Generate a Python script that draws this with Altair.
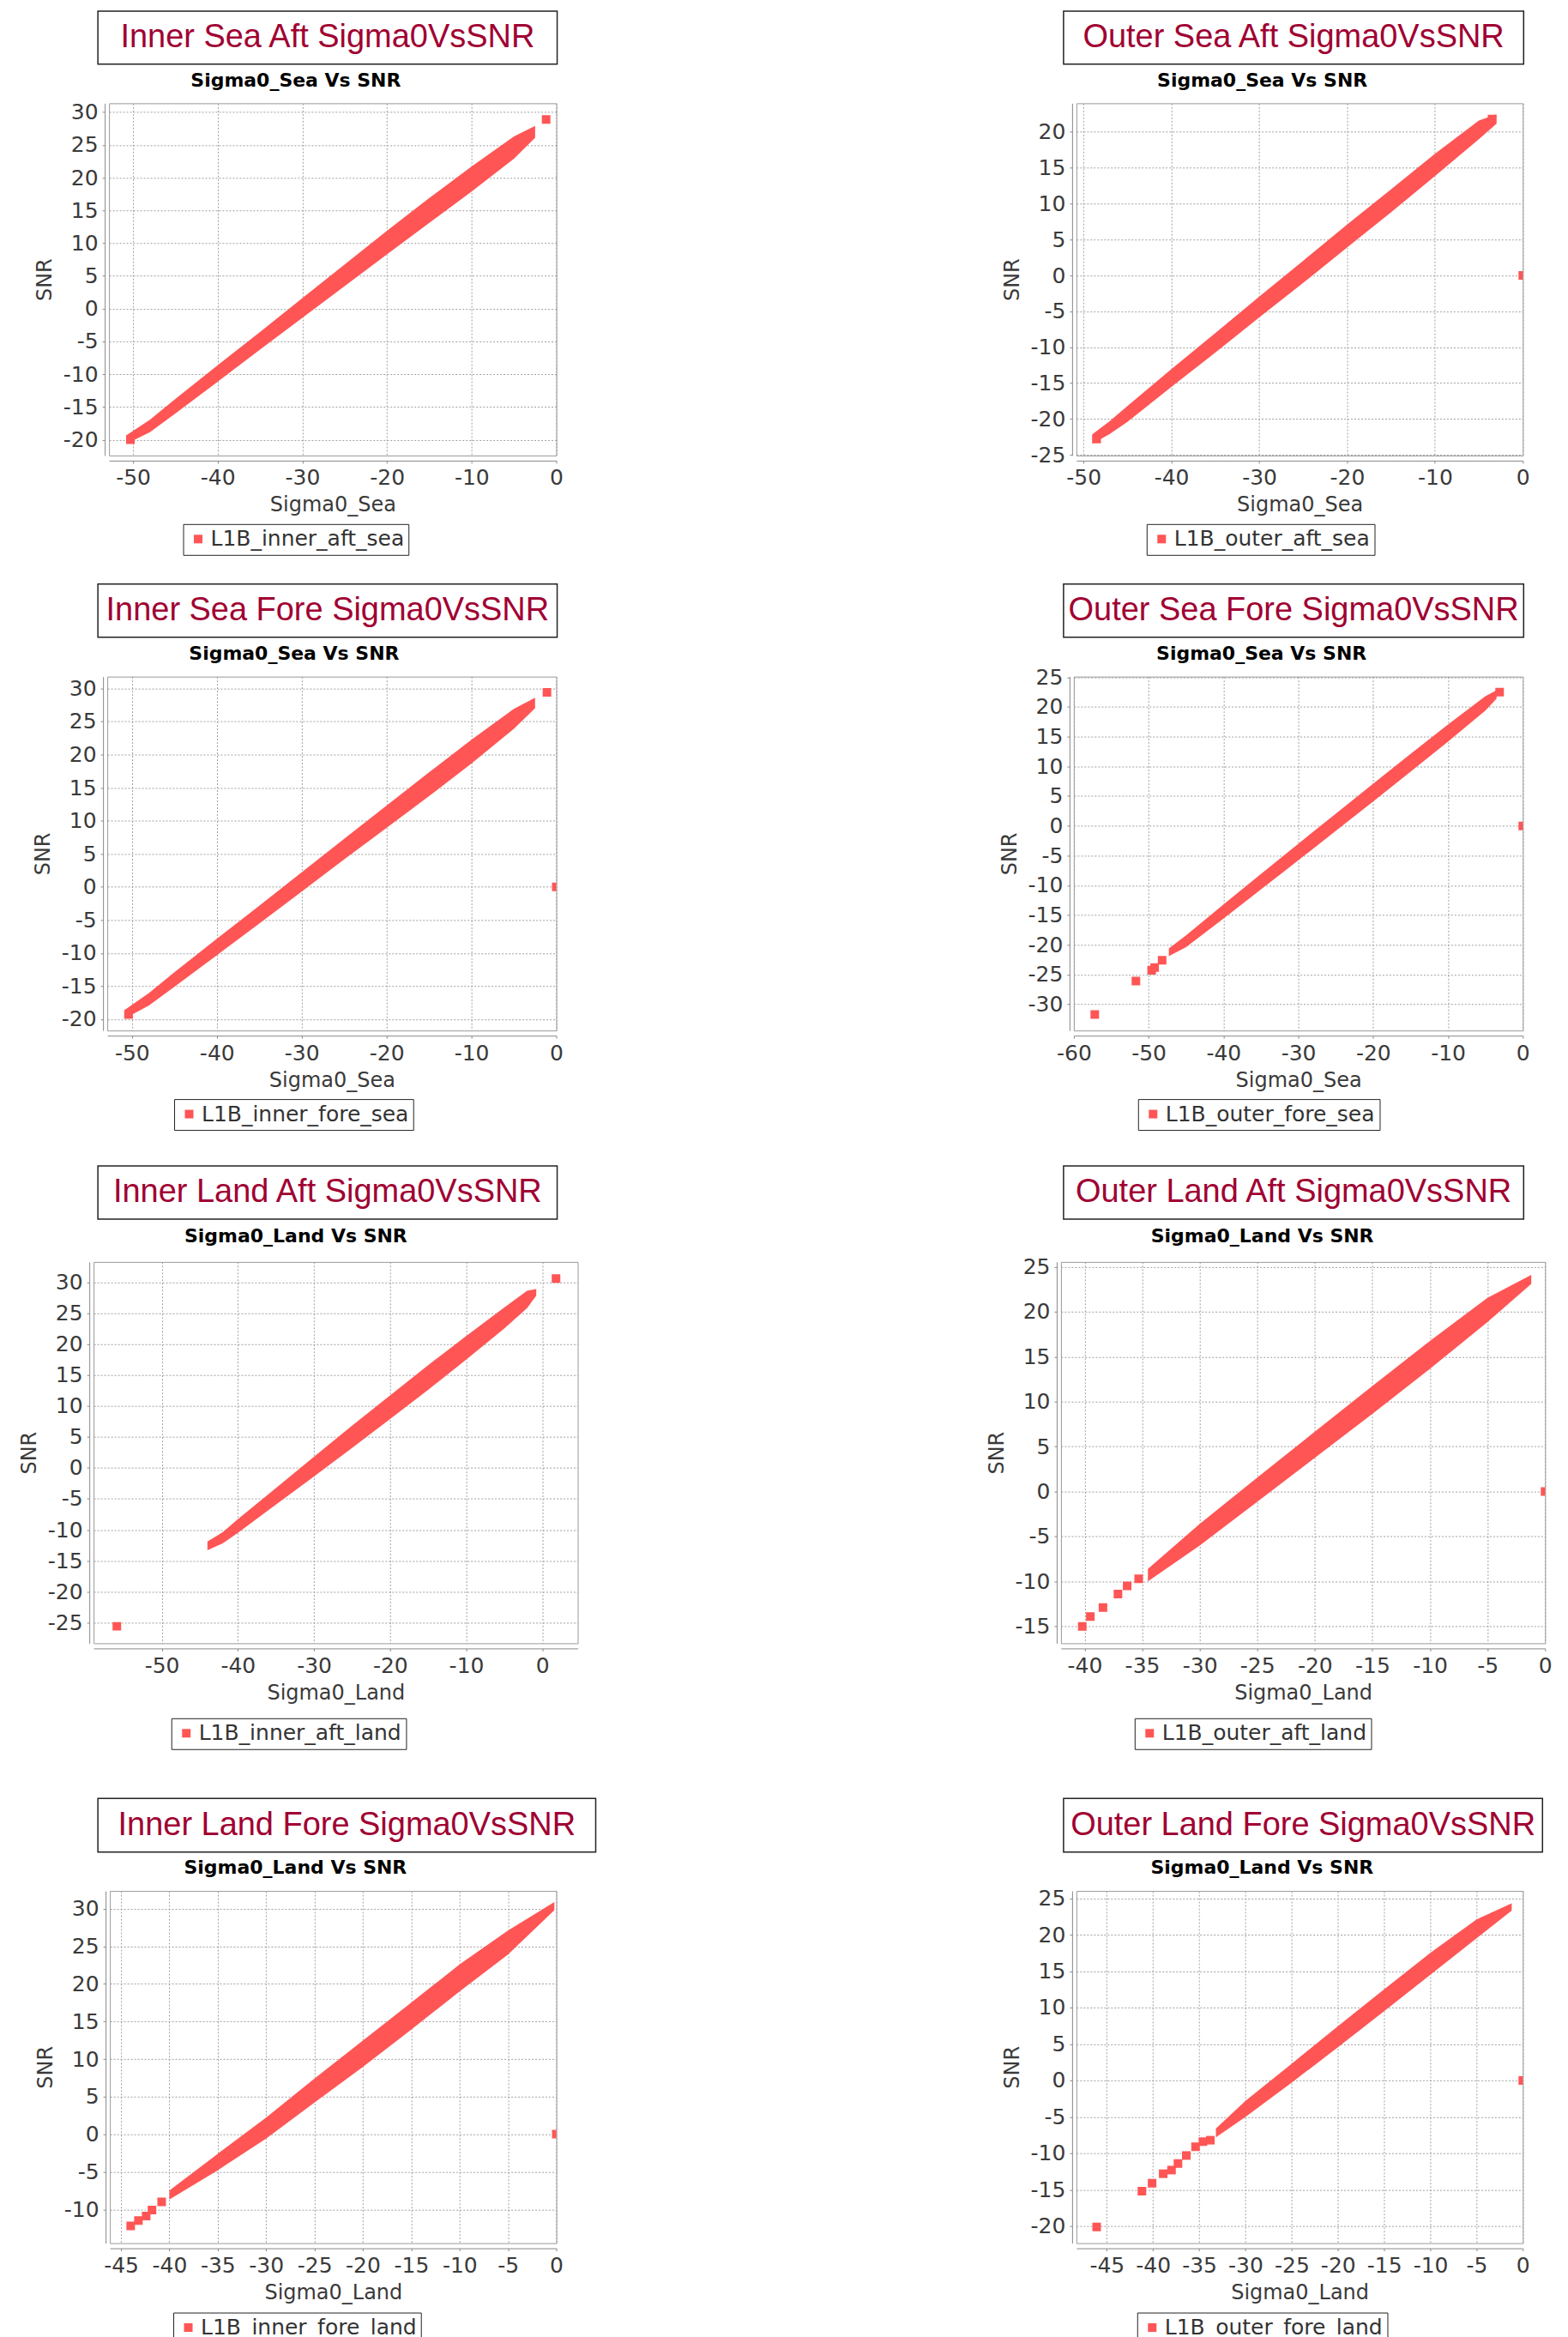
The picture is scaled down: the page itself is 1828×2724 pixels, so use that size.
import altair as alt
import pandas as pd

# ----------------------------- data -----------------------------
TITLES = ["Inner Sea Aft Sigma0VsSNR", "Outer Sea Aft Sigma0VsSNR",
          "Inner Sea Fore Sigma0VsSNR", "Outer Sea Fore Sigma0VsSNR",
          "Inner Land Aft Sigma0VsSNR", "Outer Land Aft Sigma0VsSNR",
          "Inner Land Fore Sigma0VsSNR", "Outer Land Fore Sigma0VsSNR"]
SUBTITLES = ["Sigma0_Sea Vs SNR"] * 4 + ["Sigma0_Land Vs SNR"] * 4
X_TITLES = ["Sigma0_Sea"] * 4 + ["Sigma0_Land"] * 4
SERIES = ["L1B_inner_aft_sea", "L1B_outer_aft_sea", "L1B_inner_fore_sea", "L1B_outer_fore_sea",
          "L1B_inner_aft_land", "L1B_outer_aft_land", "L1B_inner_fore_land", "L1B_outer_fore_land"]

X_TICKS = [[-50, -40, -30, -20, -10, 0],
           [-50, -40, -30, -20, -10, 0],
           [-50, -40, -30, -20, -10, 0],
           [-60, -50, -40, -30, -20, -10, 0],
           [-50, -40, -30, -20, -10, 0],
           [-40, -35, -30, -25, -20, -15, -10, -5, 0],
           [-45, -40, -35, -30, -25, -20, -15, -10, -5, 0],
           [-45, -40, -35, -30, -25, -20, -15, -10, -5, 0]]
Y_TICKS = [[-20, -15, -10, -5, 0, 5, 10, 15, 20, 25, 30],
           [-25, -20, -15, -10, -5, 0, 5, 10, 15, 20],
           [-20, -15, -10, -5, 0, 5, 10, 15, 20, 25, 30],
           [-30, -25, -20, -15, -10, -5, 0, 5, 10, 15, 20, 25],
           [-25, -20, -15, -10, -5, 0, 5, 10, 15, 20, 25, 30],
           [-15, -10, -5, 0, 5, 10, 15, 20, 25],
           [-10, -5, 0, 5, 10, 15, 20, 25, 30],
           [-20, -15, -10, -5, 0, 5, 10, 15, 20, 25]]
X_DOMAINS = [[-52.83, 0], [-50.81, 0], [-52.9, 0], [-60, 0],
             [-58.95, 4.65], [-42.05, 0], [-46.15, 0], [-48.29, 0]]
Y_DOMAINS = [[-22.42, 31.36], [-25.1, 24.0], [-21.72, 31.79], [-34.41, 25.1],
             [-28.34, 33.27], [-16.88, 25.54], [-14.5, 32.37], [-22.33, 26.0]]

# dense cloud of points, read as: sigma0 sample, upper and lower SNR edge of the cloud
P1_BAND_X = [-50.8, -48.0, -45.0, -40.0, -35.0, -30.0, -25.0, -20.0, -15.0, -10.0, -5.0, -2.5]
P1_BAND_HI = [-19.35, -16.95, -13.8, -8.65, -3.55, 1.6, 6.75, 11.9, 16.9, 21.7, 26.3, 27.9]
P1_BAND_LO = [-20.65, -18.85, -16.0, -11.15, -6.25, -1.4, 3.45, 8.3, 13.1, 17.9, 22.9, 26.1]
P1_PTS_X = [-50.3, -1.2]
P1_PTS_Y = [-20.0, 28.9]

P2_BAND_X = [-49.0, -47.0, -45.0, -40.0, -35.0, -30.0, -25.0, -20.0, -15.0, -10.0, -5.0, -3.0]
P2_BAND_HI = [-22.15, -20.3, -18.2, -13.05, -8.05, -2.95, 2.05, 7.1, 12.0, 16.95, 21.6, 22.45]
P2_BAND_LO = [-23.45, -22.1, -20.4, -15.55, -10.75, -5.85, -1.05, 3.9, 8.8, 13.85, 19.0, 21.15]
P2_PTS_X = [-48.5, -3.5, 0.0]
P2_PTS_Y = [-22.8, 21.8, 0.0]

P3_BAND_X = [-50.9, -48.0, -45.0, -40.0, -35.0, -30.0, -25.0, -20.0, -15.0, -10.0, -5.0, -2.5]
P3_BAND_HI = [-18.65, -16.05, -12.9, -7.85, -2.85, 2.2, 7.25, 12.3, 17.3, 22.25, 26.9, 28.6]
P3_BAND_LO = [-19.95, -17.95, -15.1, -10.35, -5.55, -0.7, 4.15, 8.9, 13.7, 18.65, 23.9, 27.0]
P3_PTS_X = [-50.4, -1.1, 0.0]
P3_PTS_Y = [-19.3, 29.4, 0.0]

P4_BAND_X = [-47.3, -45.0, -40.0, -35.0, -30.0, -25.0, -20.0, -15.0, -10.0, -5.0, -3.5]
P4_BAND_HI = [-20.6, -18.4, -13.2, -8.1, -3.0, 2.05, 7.1, 12.1, 17.05, 21.8, 22.8]
P4_BAND_LO = [-21.9, -20.4, -15.6, -10.7, -5.8, -0.85, 4.1, 9.1, 14.15, 19.4, 21.4]
P4_PTS_X = [-57.2, -51.7, -49.6, -49.2, -48.2, -3.1, 0.0]
P4_PTS_Y = [-31.7, -26.1, -24.3, -23.8, -22.6, 22.5, 0.0]

P5_BAND_X = [-44.0, -42.0, -40.0, -35.0, -30.0, -25.0, -20.0, -15.0, -10.0, -5.0, -2.0, -0.8]
P5_BAND_HI = [-11.9, -10.4, -8.3, -3.25, 1.8, 6.8, 11.7, 16.6, 21.3, 25.9, 28.6, 28.9]
P5_BAND_LO = [-13.3, -12.2, -10.5, -5.95, -1.4, 3.2, 7.9, 12.6, 17.5, 22.5, 25.8, 27.8]
P5_PTS_X = [-55.9, 1.8]
P5_PTS_Y = [-25.6, 30.6]

P6_BAND_X = [-34.5, -30.0, -25.0, -20.0, -15.0, -10.0, -5.0, -1.2]
P6_BAND_HI = [-8.6, -3.6, 1.55, 6.65, 11.75, 16.75, 21.55, 24.1]
P6_BAND_LO = [-10.0, -6.0, -1.15, 3.75, 8.65, 13.65, 18.85, 23.1]
P6_PTS_X = [-40.2, -39.5, -38.4, -37.1, -36.3, -35.3, 0.0]
P6_PTS_Y = [-15.0, -13.9, -12.9, -11.4, -10.5, -9.7, 0.0]

P7_BAND_X = [-40.0, -35.0, -30.0, -25.0, -20.0, -15.0, -10.0, -5.0, -0.2]
P7_BAND_HI = [-7.5, -2.6, 2.2, 7.4, 12.45, 17.5, 22.6, 27.1, 30.9]
P7_BAND_LO = [-8.7, -4.8, -0.6, 4.2, 8.95, 13.9, 19.0, 23.9, 29.8]
P7_PTS_X = [-44.0, -43.2, -42.4, -41.8, -40.8, 0.0]
P7_PTS_Y = [-12.2, -11.5, -10.9, -10.1, -9.0, 0.0]

P8_BAND_X = [-33.2, -30.0, -25.0, -20.0, -15.0, -10.0, -5.0, -1.2]
P8_BAND_HI = [-6.6, -2.8, 2.3, 7.45, 12.5, 17.5, 22.1, 24.3]
P8_BAND_LO = [-7.8, -5.0, -0.3, 4.55, 9.5, 14.5, 19.5, 23.3]
P8_PTS_X = [-46.1, -41.2, -40.1, -38.9, -38.0, -37.3, -36.4, -35.4, -34.6, -33.8, 0.0]
P8_PTS_Y = [-20.1, -15.2, -14.1, -12.8, -12.3, -11.4, -10.3, -9.1, -8.4, -8.2, 0.0]

BAND_X = [P1_BAND_X, P2_BAND_X, P3_BAND_X, P4_BAND_X, P5_BAND_X, P6_BAND_X, P7_BAND_X, P8_BAND_X]
BAND_HI = [P1_BAND_HI, P2_BAND_HI, P3_BAND_HI, P4_BAND_HI, P5_BAND_HI, P6_BAND_HI, P7_BAND_HI, P8_BAND_HI]
BAND_LO = [P1_BAND_LO, P2_BAND_LO, P3_BAND_LO, P4_BAND_LO, P5_BAND_LO, P6_BAND_LO, P7_BAND_LO, P8_BAND_LO]
PTS_X = [P1_PTS_X, P2_PTS_X, P3_PTS_X, P4_PTS_X, P5_PTS_X, P6_PTS_X, P7_PTS_X, P8_PTS_X]
PTS_Y = [P1_PTS_Y, P2_PTS_Y, P3_PTS_Y, P4_PTS_Y, P5_PTS_Y, P6_PTS_Y, P7_PTS_Y, P8_PTS_Y]

# ----------------------------- styles / layout -----------------------------
RED = "#FF5555"
TITLE_RED = "#A00032"
FONT = "DejaVu Sans"
TITLE_FONT = "Liberation Sans"
LABEL = "#3A3A3A"
AXIS_C = "#888888"
GRID_C = "#A0A0A0"
FRAME_C = "#9A9A9A"

PLOT_W = [522, 521, 524, 524, 565, 565, 521, 521]
PLOT_H = [411, 411, 413, 413, 445, 445, 411, 411]
COL_GAP = [607, 604, 564, 607]
BOX = [(-13, 523, -107.5, -45.6), (-15, 522, -107.5, -45.6),
       (-11, 525, -108, -46), (-12, 525, -108, -46),
       (5, 541, -112, -50), (3, 540, -112, -50),
       (-14, 567, -108, -45.3), (-15, 544, -108, -45.3)]
SUB = [(218, -19), (217, -19), (218, -20), (219, -20),
       (236, -23), (235, -23), (216.5, -20), (216.7, -20)]
LEG = [(86.5, 491), (82, 491), (78, 493), (75, 493),
       (90.7, 532.5), (86, 532.5), (74, 492), (71, 492)]
SPACERS = [[(0, 1, -110, 542)], [(546, 547, 0, 1)],
           [(0, 1, -125, 550)], [(551, 552, 0, 1)],
           [(0, 1, -131, 599), (-100, -99, 0, 1)], [(582, 583, 0, 1)],
           [(0, 1, -133, 526)], [(545, 546, 0, 1)]]


def panel(i):
    name = SERIES[i]
    band = pd.DataFrame({"sigma0": BAND_X[i], "snr": BAND_HI[i], "snr2": BAND_LO[i], "series": name})
    pts = pd.DataFrame({"sigma0": PTS_X[i], "snr": PTS_Y[i], "series": name})
    tdf = pd.DataFrame({"title": [TITLES[i]], "subtitle": [SUBTITLES[i]]})

    common = dict(grid=True, gridColor=GRID_C, gridDash=[2, 2], gridWidth=1,
                  domainColor=AXIS_C, tickColor=AXIS_C, tickSize=3,
                  labelFont=FONT, labelFontSize=25, labelColor=LABEL, labelPadding=5,
                  labelFlush=False, labelOverlap=False, labelExpr="'' + datum.value",
                  titleFont=FONT, titleFontSize=24, titleFontWeight="normal",
                  titleColor=LABEL)
    xaxis = alt.Axis(values=X_TICKS[i], title=X_TITLES[i], offset=6, titlePadding=7, **common)
    yaxis = alt.Axis(values=Y_TICKS[i], title="SNR", offset=5, titlePadding=9, **common)
    xs = alt.Scale(domain=X_DOMAINS[i], nice=False, zero=False)
    ys = alt.Scale(domain=Y_DOMAINS[i], nice=False, zero=False)
    legend = alt.Legend(title=None, orient="none", legendX=LEG[i][0], legendY=LEG[i][1],
                        symbolType="square", symbolSize=100, symbolStrokeWidth=0,
                        labelFont=FONT, labelFontSize=25, labelColor="#333333",
                        labelOffset=2, labelLimit=500, padding=5,
                        strokeColor="#222222", fillColor="white")
    color = alt.Color("series:N", scale=alt.Scale(domain=[name], range=[RED]), legend=legend)
    x = alt.X("sigma0:Q", scale=xs, axis=xaxis)
    y = alt.Y("snr:Q", scale=ys, axis=yaxis)

    area = alt.Chart(band).mark_area(opacity=1, clip=True, interpolate="linear").encode(
        x=x, y=y, y2="snr2:Q", color=color)
    dots = alt.Chart(pts).mark_square(size=100, opacity=1, clip=True).encode(
        x=x, y=y, color=color)

    bx0, bx1, by0, by1 = BOX[i]
    box = alt.Chart(tdf).mark_rect(fill="transparent", stroke="#222222", strokeWidth=1.5).encode(
        x=alt.value(bx0), x2=alt.value(bx1), y=alt.value(by0), y2=alt.value(by1))
    ttl = alt.Chart(tdf).mark_text(font=TITLE_FONT, fontSize=38, color=TITLE_RED,
                                   align="center", baseline="middle").encode(
        x=alt.value((bx0 + bx1) / 2), y=alt.value((by0 + by1) / 2), text="title:N")
    sub = alt.Chart(tdf).mark_text(font=FONT, fontSize=22, fontWeight="bold", color="black",
                                   align="center", baseline="alphabetic").encode(
        x=alt.value(SUB[i][0]), y=alt.value(SUB[i][1]), text="subtitle:N")
    layers = [area, dots, box, ttl, sub]
    for (sx0, sx1, sy0, sy1) in SPACERS[i]:
        layers.append(alt.Chart(tdf).mark_rect(opacity=0).encode(
            x=alt.value(sx0), x2=alt.value(sx1), y=alt.value(sy0), y2=alt.value(sy1)))
    return alt.layer(*layers).properties(width=PLOT_W[i], height=PLOT_H[i])


rows = []
for r in range(4):
    row = alt.hconcat(panel(2 * r), panel(2 * r + 1), spacing=COL_GAP[r], bounds="flush")
    row = row.resolve_scale(color="independent").resolve_legend(color="independent")
    rows.append(row)

chart = alt.vconcat(*rows, spacing=0, center=True)
chart = chart.resolve_scale(color="independent").resolve_legend(color="independent")
chart = chart.properties(padding=0, background="white").configure_view(
    stroke=FRAME_C, strokeWidth=1)

chart.save("out.html", embed_options={"renderer": "svg", "actions": False})
